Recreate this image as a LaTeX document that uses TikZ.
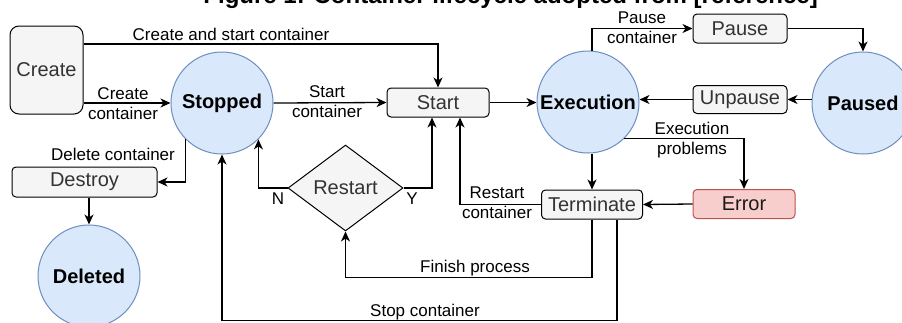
\documentclass[tikz,border=0pt]{standalone}
\usepackage{fontspec}
\setmainfont{Liberation Sans}
\usetikzlibrary{arrows.meta,shapes.geometric}
\definecolor{boxfill}{HTML}{F5F5F5}
\definecolor{boxtext}{HTML}{333333}
\definecolor{circfill}{HTML}{DAE8FC}
\definecolor{circline}{HTML}{6C8EBF}
\definecolor{errfill}{HTML}{F8CECC}
\definecolor{errline}{HTML}{B85450}
\tikzset{
  boxnode/.style={draw=black, fill=boxfill, text=boxtext, rounded corners=4pt, line width=1pt,
    inner sep=0pt, font=\fontsize{20}{22}\selectfont},
  statenode/.style={circle, draw=circline, fill=circfill, line width=1pt, inner sep=0pt,
    minimum size=102pt, font=\fontsize{20}{22}\selectfont\bfseries},
  arr/.style={line width=1.3pt, -{Stealth[length=10pt,width=9pt,inset=3pt]}},
  lbl/.style={font=\fontsize{17}{20}\selectfont, align=center, inner sep=0pt},
}
\begin{document}
\begin{tikzpicture}[x=1pt,y=-1pt]
\useasboundingbox (0,0) rectangle (902,322);
\clip (0,0) rectangle (902,322);
\node[anchor=base east, font=\fontsize{24}{26}\selectfont\bfseries, inner sep=0pt] (title) at (818,3) {Figure 1: Container lifecycle adopted from [reference]};

\node[boxnode, minimum width=73pt, minimum height=88pt, rounded corners=9pt] (create) at (46.5,70) {Create};
\node[statenode] (stopped) at (222,103) {Stopped};
\node[boxnode, minimum width=102pt, minimum height=29pt] (start) at (438,102.5) {Start};
\node[statenode] (execution) at (588,102) {Execution};
\node[boxnode, minimum width=94pt, minimum height=29pt] (pause) at (740,28.5) {Pause};
\node[statenode] (paused) at (863,103) {Paused};
\node[boxnode, minimum width=94pt, minimum height=28pt] (unpause) at (740,99.5) {Unpause};
\node[boxnode, draw=errline, fill=errfill, text=black!90, minimum width=102pt, minimum height=29pt] (error) at (744,204) {Error};
\node[boxnode, minimum width=101pt, minimum height=29pt] (terminate) at (592,204.5) {Terminate};
\node[diamond, draw=black, fill=boxfill, text=boxtext, line width=1pt, inner sep=0pt, minimum width=115pt, minimum height=86pt, font=\fontsize{20}{22}\selectfont] (restart) at (345.5,188) {Restart};
\node[boxnode, minimum width=145pt, minimum height=30pt] (destroy) at (84.5,182) {Destroy};
\node[statenode] (deleted) at (89,276) {Deleted};

% connectors
\draw[arr] ([yshift=26pt]create.east) -| (start.north);
\node[lbl] (l1) at (231,34) {Create and start container};

\draw[arr] (create.east |- stopped.west) -- (stopped.west);
\node[lbl] (l2) at (123,103.5) {Create\\container};

\draw[arr] (stopped.east) -- (start.west);
\node[lbl] (l3) at (327,102) {Start\\container};

\draw[arr] (start.east) -- (execution.west |- start.east);

\draw[arr] ([xshift=4pt]execution.north) |- (pause.west);
\node[lbl] (l4) at (642,28) {Pause\\container};

\draw[arr] (pause.east) -| (paused.north);
\draw[arr] (paused.west |- unpause.east) -- (unpause.east);
\draw[arr] (unpause.west) -- (execution.east |- unpause.west);

\draw[arr] (execution.-45) -| (error.north);
\node[lbl] (l5) at (692,140) {Execution\\problems};

\draw[arr] (execution.south -| terminate.north) -- (terminate.north);
\draw[arr] (error.west) -- (terminate.east);

\draw[arr] (terminate.west) -| ([xshift=22pt]start.south);
\node[lbl] (l6) at (497,203) {Restart\\container};

\draw[arr] (restart.east) -| ([xshift=-6pt]start.south);
\node[lbl] (ly) at (412,199) {Y};
\draw[arr] (restart.west) -| (stopped.-45);
\node[lbl] (ln) at (278,199) {N};

\draw[arr] (terminate.south) -- ++(0,58) -| (restart.south);
\node[lbl] (l7) at (475,268) {Finish process};

\draw[arr] ([xshift=25pt]terminate.south) -- ++(0,101) -| (stopped.south);
\node[lbl] (l8) at (425,312) {Stop container};

\draw[arr] (stopped.-135) |- (destroy.east);
\node[lbl] (l9) at (113,154) {Delete container};

\draw[arr] (destroy.south -| deleted.north) -- (deleted.north);
\end{tikzpicture}
\end{document}
